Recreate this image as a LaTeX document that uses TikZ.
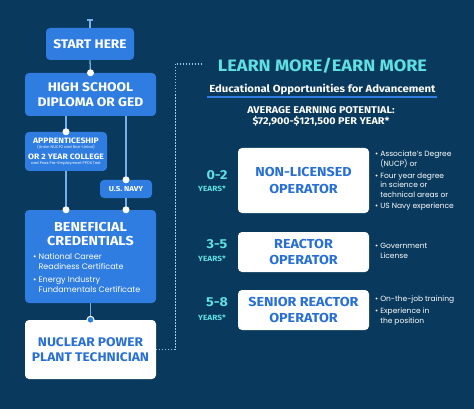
\documentclass[tikz,border=0pt]{standalone}
\usepackage{fontspec}
\setmainfont{Poppins}
\newfontfamily\headfont{Fira Sans}[FakeStretch=1.1]
\definecolor{bg}{RGB}{9,57,92}
\definecolor{boxblue}{RGB}{47,125,225}
\definecolor{txtblue}{RGB}{40,112,212}
\definecolor{teal}{RGB}{95,225,225}
\definecolor{conncol}{RGB}{120,175,230}
\definecolor{dotcol}{RGB}{150,205,235}
\tikzset{
  bluebox/.style={fill=boxblue, rounded corners=4pt, inner sep=0pt, text=white, font=\headfont\bfseries\fontsize{12}{14}\selectfont, align=center},
  whitebox/.style={fill=white, rounded corners=4pt, inner sep=0pt, text=txtblue, font=\headfont\bfseries\fontsize{13}{16.5}\selectfont, align=center},
  conn/.style={draw=conncol, line width=1.3pt},
  dotline/.style={draw=dotcol, line width=1.2pt, dash pattern=on 1.2pt off 1.8pt},
  wdot/.style={circle, fill=white, inner sep=0pt, minimum size=7pt},
  ringdot/.style={circle, fill=boxblue, draw=white, line width=1pt, inner sep=0pt, minimum size=7pt},
  body/.style={text=white, font=\fontsize{8}{9.8}\selectfont, align=left, inner sep=0pt},
  side/.style={text=white, font=\fontsize{7.5}{9.8}\selectfont, align=left, inner sep=0pt, anchor=north west},
  yrs/.style={text=teal, font=\headfont\bfseries\fontsize{13}{14}\selectfont, inner sep=0pt},
  yrslab/.style={text=teal, font=\headfont\bfseries\fontsize{7.5}{9}\selectfont, inner sep=0pt},
  apptitle/.style={text=white, font=\headfont\bfseries\fontsize{7.8}{9}\selectfont, inner sep=0pt},
  appsmall/.style={text=white, font=\fontsize{3.8}{4}\selectfont, inner sep=0pt},
}
\begin{document}
\begin{tikzpicture}[x=1pt,y=-1pt]
\fill[bg] (0,0) rectangle (474,409);
\useasboundingbox (0,0) rectangle (474,409);

% left column boxes
\node[bluebox, minimum width=88pt, minimum height=32pt, font=\headfont\bfseries\fontsize{12.5}{14}\selectfont] (start) at (90,44) {START HERE};
\node[bluebox, minimum width=131pt, minimum height=43pt, font=\headfont\bfseries\fontsize{12.5}{14.5}\selectfont] (hs) at (90.5,94.5) {HIGH SCHOOL\\DIPLOMA OR GED};
\node[bluebox, minimum width=82pt, minimum height=39pt] (app) at (66,151.5) {};
\node[apptitle] (appt1) at (66,141) {APPRENTICESHIP};
\node[appsmall] (apps1) at (66,147.5) {(Union NUCP2 and Non-Union)};
\node[apptitle] (appt2) at (66,157) {OR 2 YEAR COLLEGE};
\node[appsmall] (apps2) at (66,164) {and Pass Pre-Employment PPDS Test};
\node[bluebox, minimum width=52pt, minimum height=18pt, font=\headfont\bfseries\fontsize{7.2}{9}\selectfont] (navy) at (126,189) {U.S. NAVY};
\node[bluebox, minimum width=131pt, minimum height=93pt] (ben) at (90.5,256.5) {};
\node[text=white, font=\headfont\bfseries\fontsize{13}{13.5}\selectfont, align=center, inner sep=0pt] (bent) at (90.5,234) {BENEFICIAL\\CREDENTIALS};
\node[body, anchor=north west] (benb) at (33,253.5) {\textbullet\ National Career\\\hphantom{\textbullet\ }Readiness Certificate\\[3pt]\textbullet\ Energy Industry\\\hphantom{\textbullet\ }Fundamentals Certificate};
\node[whitebox, minimum width=131pt, minimum height=59pt, font=\headfont\bfseries\fontsize{12.5}{15.5}\selectfont] (nuc) at (90.5,349.5) {NUCLEAR POWER\\PLANT TECHNICIAN};

% connectors
\coordinate (top) at (90,20);
\draw[conn] (top) -- (start.north);
\draw[conn] ([xshift=-3pt]top) -- ([xshift=3pt]top);
\draw[conn] (start.south) -- (hs.north);
\node[wdot] at (hs.north) {};
\draw[conn] (app.north |- hs.south) -- (app.north);
\node[wdot] at (app.north) {};
\draw[conn] (navy.north |- hs.south) -- (navy.north);
\node[wdot] at (navy.north) {};
\draw[conn] (navy.south) -- (navy.south |- ben.north);
\node[wdot] at (navy.south |- ben.north) {};
\draw[conn] (app.south) -- (app.south |- ben.north);
\node[wdot] at (app.south |- ben.north) {};
\draw[conn] (ben.south) -- (nuc.north);
\node[ringdot] at (nuc.north) {};

% dotted link
\coordinate (dotend) at (202,64);
\draw[dotline] (nuc.east) -- ++(19,0) |- (dotend);

% right header
\node[text=teal, font=\headfont\bfseries\fontsize{16.5}{17}\selectfont, inner sep=0pt] (title) at (322.5,65.5) {LEARN MORE/EARN MORE};
\node[text=white, font=\headfont\bfseries\fontsize{10.3}{12}\selectfont, inner sep=0pt] (sub) at (322.5,89) {Educational Opportunities for Advancement};
\draw[draw=boxblue, line width=1.2pt] (207,97) -- (437,97);
\node[text=white, font=\headfont\bfseries\fontsize{9.8}{11.5}\selectfont, align=center, inner sep=0pt] (earn) at (321,116.5) {AVERAGE EARNING POTENTIAL:\\\$72,900-\$121,500 PER YEAR*};

% right boxes
\node[whitebox, minimum width=131pt, minimum height=65pt] (op1) at (303.5,180.5) {NON-LICENSED\\OPERATOR};
\node[whitebox, minimum width=131pt, minimum height=40pt, font=\headfont\bfseries\fontsize{13}{16}\selectfont] (op2) at (303.5,252) {REACTOR\\OPERATOR};
\node[whitebox, minimum width=131pt, minimum height=40pt, font=\headfont\bfseries\fontsize{13}{16}\selectfont] (op3) at (303.5,310) {SENIOR REACTOR\\OPERATOR};

% years
\node[yrs] (y1) at (217,175.5) {0-2};
\node[yrslab] (y1l) at (212,188.5) {YEARS*};
\node[yrs] (y2) at (217,244.5) {3-5};
\node[yrslab] (y2l) at (212,258.5) {YEARS*};
\node[yrs] (y3) at (217,302.5) {5-8};
\node[yrslab] (y3l) at (212,317.5) {YEARS*};

% side notes
\node[side] (n1) at (375,151) {\textbullet\ Associate's Degree\\\hphantom{\textbullet\ }(NUCP) or\\[1.5pt]\textbullet\ Four year degree\\\hphantom{\textbullet\ }in science or\\\hphantom{\textbullet\ }technical areas or\\[1.5pt]\textbullet\ US Navy experience};
\node[side] (n2) at (375,243) {\textbullet\ Government\\\hphantom{\textbullet\ }License};
\node[side] (n3) at (375,296) {\textbullet\ On-the-job training\\[2pt]\textbullet\ Experience in\\\hphantom{\textbullet\ }the position};
\end{tikzpicture}
\end{document}
